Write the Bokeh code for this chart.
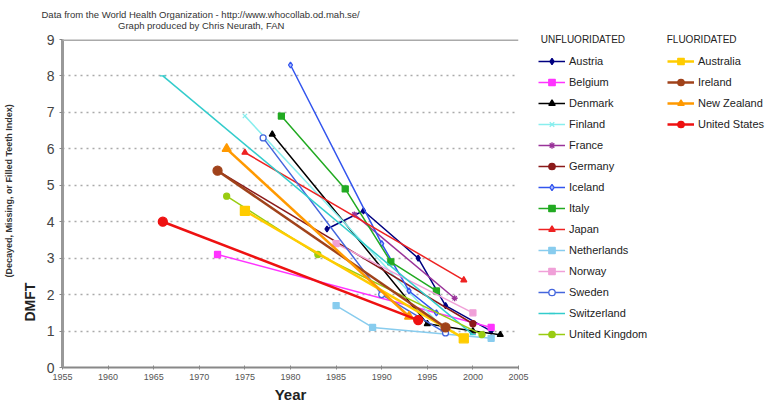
import math
from bokeh.plotting import figure
from bokeh.models import Range1d, Legend, LegendItem, Span, FixedTicker, Title
from bokeh.embed import file_html
from bokeh.resources import INLINE

# ---------------- data (year, DMFT) ----------------
austria_years = [1984, 1988, 1994, 1997, 2002]
austria_dmft = [3.8, 4.3, 3.0, 1.7, 1.0]
belgium_years = [1972, 2002]
belgium_dmft = [3.1, 1.1]
denmark_years = [1978, 1995, 2000, 2003]
denmark_dmft = [6.4, 1.2, 1.0, 0.9]
finland_years = [1975, 1997]
finland_dmft = [6.9, 1.0]
france_years = [1987, 1998]
france_dmft = [4.2, 1.9]
germany_years = [1972, 2000]
germany_dmft = [5.4, 1.2]
iceland_years = [1980, 1990, 1993, 1996]
iceland_dmft = [8.3, 3.4, 2.1, 1.5]
italy_years = [1979, 1986, 1991, 1996]
italy_dmft = [6.9, 4.9, 2.9, 2.1]
japan_years = [1975, 1999]
japan_dmft = [5.9, 2.4]
netherlands_years = [1985, 1989, 2002]
netherlands_dmft = [1.7, 1.1, 0.8]
norway_years = [1985, 2000]
norway_dmft = [3.4, 1.5]
sweden_years = [1977, 1990, 1997]
sweden_dmft = [6.3, 2.0, 0.95]
switzerland_years = [1966, 2000]
switzerland_dmft = [8.0, 0.9]
uk_years = [1973, 1983, 2001]
uk_dmft = [4.7, 3.1, 0.9]

australia_years = [1975, 1999]
australia_dmft = [4.3, 0.8]
ireland_years = [1972, 1997]
ireland_dmft = [5.4, 1.1]
newzealand_years = [1973, 1993]
newzealand_dmft = [6.0, 1.4]
usa_years = [1966, 1994]
usa_dmft = [4.0, 1.3]

x_ticks = [1955, 1960, 1965, 1970, 1975, 1980, 1985, 1990, 1995, 2000, 2005]
y_ticks = [0, 1, 2, 3, 4, 5, 6, 7, 8, 9]

unfluoridated = [
    ("Austria", austria_years, austria_dmft, "#000080", "diamond", "#000080"),
    ("Belgium", belgium_years, belgium_dmft, "#FF33FF", "square", "#FF33FF"),
    ("Denmark", denmark_years, denmark_dmft, "#000000", "triangle", "#000000"),
    ("Finland", finland_years, finland_dmft, "#88EEEE", "x", "#88EEEE"),
    ("France", france_years, france_dmft, "#993399", "asterisk", "#993399"),
    ("Germany", germany_years, germany_dmft, "#8B1A1A", "circle", "#8B1A1A"),
    ("Iceland", iceland_years, iceland_dmft, "#3355EE", "diamond", "#AABBFF"),
    ("Italy", italy_years, italy_dmft, "#22AA22", "square", "#22AA22"),
    ("Japan", japan_years, japan_dmft, "#EE2222", "triangle", "#EE2222"),
    ("Netherlands", netherlands_years, netherlands_dmft, "#88CCEE", "square", "#88CCEE"),
    ("Norway", norway_years, norway_dmft, "#F0A0D8", "square", "#F0A0D8"),
    ("Sweden", sweden_years, sweden_dmft, "#4466DD", "circle", "#FFFFFF"),
    ("Switzerland", switzerland_years, switzerland_dmft, "#33CCCC", "dash", "#33CCCC"),
    ("United Kingdom", uk_years, uk_dmft, "#99CC11", "circle", "#99CC11"),
]
fluoridated = [
    ("Australia", australia_years, australia_dmft, "#FFCC00", "square", "#FFCC00"),
    ("Ireland", ireland_years, ireland_dmft, "#A0421A", "circle", "#A0421A"),
    ("New Zealand", newzealand_years, newzealand_dmft, "#FF9900", "triangle", "#FF9900"),
    ("United States", usa_years, usa_dmft, "#EE1111", "circle", "#EE1111"),
]

FONT = "Liberation Sans"
NB = "\u00a0"

p = figure(output_backend="svg", toolbar_location=None,
           frame_width=456, frame_height=328,
           min_border_left=62, min_border_right=0,
           min_border_top=39, min_border_bottom=36,
           x_range=Range1d(1955, 2005), y_range=Range1d(0, 9))
p.outline_line_color = None
p.background_fill_color = "white"

# two-line subtitle above the frame
p.title.text = ("Data from the World Health Organization - http://www.whocollab.od.mah.se/"
                + "\n" + NB * 29 + "Graph produced by Chris Neurath, FAN")
p.title.text_font = FONT
p.title.text_font_size = "9.5px"
p.title.text_font_style = "normal"
p.title.text_color = "#333333"
p.title.text_line_height = 1.05
p.title.align = "left"
p.title.vertical_align = "top"
p.title.offset = -21
p.title.standoff = 12

# axes
p.xaxis.ticker = FixedTicker(ticks=x_ticks)
p.yaxis.ticker = FixedTicker(ticks=y_ticks)
p.xaxis.axis_label = "Year"
p.xaxis.axis_label_text_font = FONT
p.xaxis.axis_label_text_font_size = "15px"
p.xaxis.axis_label_text_font_style = "bold"
p.xaxis.axis_label_text_color = "#222222"
p.xaxis.axis_label_standoff = 3
p.xaxis.major_label_text_font = FONT
p.xaxis.major_label_text_font_size = "9px"
p.xaxis.major_label_text_color = "#555555"
p.xaxis.major_label_standoff = 4
p.xaxis.axis_line_color = "#888888"
p.xaxis.axis_line_width = 2
p.xaxis.major_tick_line_color = "#888888"
p.xaxis.major_tick_in = 2
p.xaxis.major_tick_out = 2
p.xaxis.minor_tick_line_color = None

p.yaxis.major_label_text_font = FONT
p.yaxis.major_label_text_font_size = "14px"
p.yaxis.major_label_text_color = "#444444"
p.yaxis.major_label_standoff = 5
p.yaxis.axis_line_color = "#999999"
p.yaxis.axis_line_width = 3
p.yaxis.major_tick_line_color = "#888888"
p.yaxis.major_tick_in = 0
p.yaxis.major_tick_out = 3
p.yaxis.minor_tick_line_color = None

# y-axis title in two parts, in the left panel
t_dmft = Title(text="DMFT", text_font=FONT, text_font_size="14px",
               text_font_style="bold", text_color="#222222",
               align="left", offset=46, standoff=12)
t_paren = Title(text="(Decayed, Missing, or Filled Teeth Index)", text_font=FONT,
                text_font_size="9px", text_font_style="bold", text_color="#333333",
                align="left", offset=90, standoff=0)
p.add_layout(t_dmft, "left")
p.add_layout(t_paren, "left")

p.xgrid.grid_line_color = None
p.ygrid.grid_line_color = "#AAAAAA"
p.ygrid.grid_line_dash = "2 4"
p.ygrid.grid_line_width = 1.5

top_line = Span(location=9, dimension="width", line_color="#AAAAAA", line_width=3)
p.add_layout(top_line)

def draw(series, lw, size):
    items = []
    for name, xs, ys, col, marker, fill in series:
        lr = p.line(xs, ys, line_color=col, line_width=lw)
        sr = p.scatter(xs, ys, marker=marker, size=size, line_color=col,
                       fill_color=fill, line_width=1.3)
        items.append(LegendItem(label=name, renderers=[lr, sr]))
    return items

items_u = draw(unfluoridated, 1.5, 6)
items_f = draw(fluoridated, 2.5, 9)

legend_title = NB + "UNFLUORIDATED" + NB * 15 + "FLUORIDATED"
legend = Legend(items=items_u + items_f, title=legend_title, location=(20, 25),
                nrows=14, border_line_color=None, background_fill_alpha=0,
                margin=0, padding=0, spacing=5,
                glyph_width=27, glyph_height=16, label_height=16,
                label_standoff=4, label_width=93,
                label_text_font=FONT, label_text_font_size="11px",
                label_text_color="#222222",
                title_text_font=FONT, title_text_font_size="10px",
                title_text_font_style="normal", title_text_color="#222222",
                title_standoff=8)
p.add_layout(legend, "right")

open("out.html", "w").write(file_html(p, INLINE))
